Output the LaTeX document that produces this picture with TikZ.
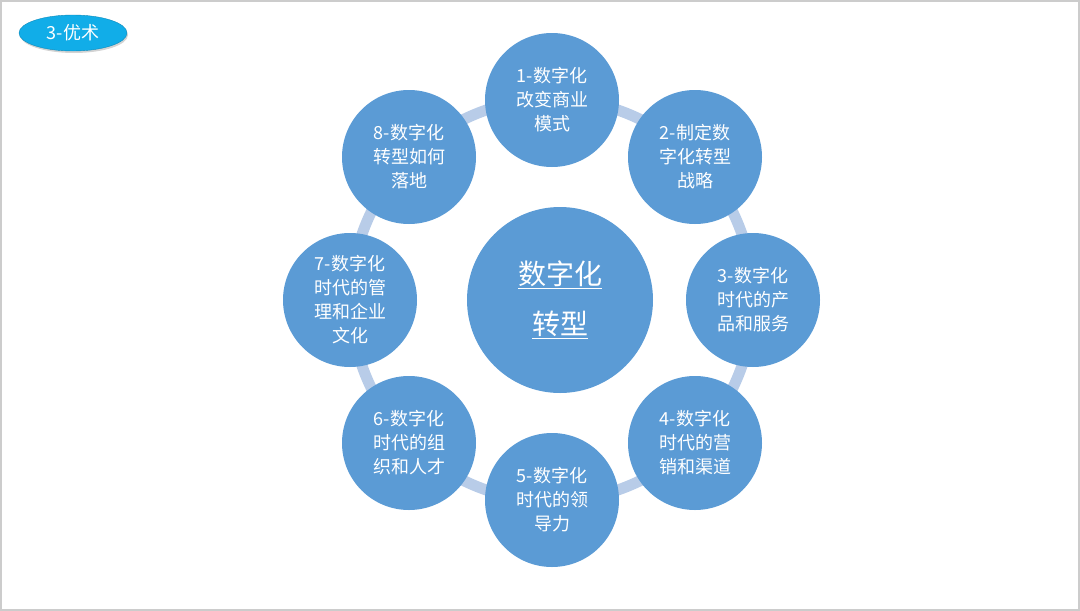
\documentclass[tikz,border=0pt]{standalone}
\usepackage{fontspec}
\setmainfont{Liberation Sans}
\newfontfamily\cjk{Noto Sans CJK SC}
\usetikzlibrary{shadows,shapes.geometric}
\definecolor{cfill}{HTML}{5B9BD5}
\definecolor{cring}{HTML}{B8CCE8}
\definecolor{pill}{HTML}{11ADE8}
\begin{document}
\begin{tikzpicture}[x=1pt,y=-1pt,
  sat/.style={circle,fill=cfill,minimum size=134pt,inner sep=0pt,text=white,align=center,font=\cjk\fontsize{18}{24}\selectfont},
]
\useasboundingbox (0,0) rectangle (1080,611);
\draw[gray!40,line width=1.5pt] (1,1) rectangle (1079,610);
\node[ellipse,fill=pill,draw=pill!80!black,line width=0.4pt,minimum width=108pt,minimum height=36pt,inner sep=0pt,text=white,font=\cjk\fontsize{18}{20}\selectfont,drop shadow={shadow xshift=1pt,shadow yshift=-2pt,opacity=0.35}] (tag) at (73,33) {3-优术};
\coordinate (rc) at (552,300);
\draw[cring,line width=11pt] (rc) circle[radius=201];
\node[circle,fill=cfill,minimum size=186pt,inner sep=0pt,text=white,align=center,font=\cjk\fontsize{28}{50}\selectfont] (c) at (560,300) {\underline{数字化}\\\underline{转型}};
\node[sat] (s1) at (552,100) {1-数字化\\改变商业\\模式};
\node[sat] (s2) at (695,157) {2-制定数\\字化转型\\战略};
\node[sat] (s3) at (753,300) {3-数字化\\时代的产\\品和服务};
\node[sat] (s4) at (695,443) {4-数字化\\时代的营\\销和渠道};
\node[sat] (s5) at (552,500) {5-数字化\\时代的领\\导力};
\node[sat] (s6) at (409,443) {6-数字化\\时代的组\\织和人才};
\node[sat] (s7) at (350,300) {7-数字化\\时代的管\\理和企业\\文化};
\node[sat] (s8) at (409,157) {8-数字化\\转型如何\\落地};
\end{tikzpicture}
\end{document}
